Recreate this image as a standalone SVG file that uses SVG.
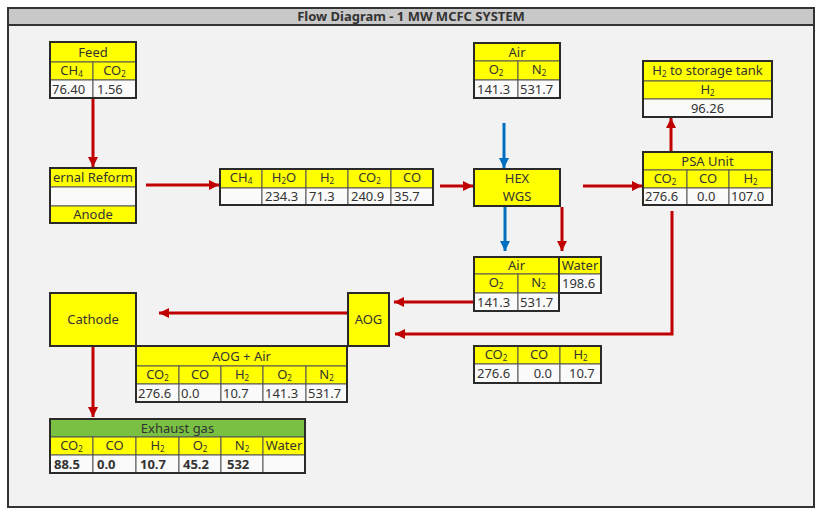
<svg xmlns="http://www.w3.org/2000/svg" width="823" height="517" viewBox="0 0 823 517">
<defs>
<style>
text{font-family:"Noto Sans","Open Sans","Liberation Sans",sans-serif;font-size:13px;fill:#333}
.c{text-anchor:middle}
.e{text-anchor:end}
.s{font-size:8px}
.bd{font-weight:bold}
.y{fill:#ffff00;stroke:#555;stroke-width:1}
.w{fill:#fafafa;stroke:#555;stroke-width:1}
.g{fill:#7ac143;stroke:#555;stroke-width:1}
.o{fill:none;stroke:#2a2a2a;stroke-width:2}
.r{fill:none;stroke:#c00000;stroke-width:3;marker-end:url(#ar)}
.bl{fill:none;stroke:#0070c0;stroke-width:3;marker-end:url(#ab)}
</style>
<marker id="ar" viewBox="0 0 10 10" refX="10" refY="5" markerWidth="11" markerHeight="10" markerUnits="userSpaceOnUse" orient="auto"><path d="M0,0 L10,5 L0,10 z" fill="#c00000"/></marker>
<marker id="ab" viewBox="0 0 10 10" refX="10" refY="5" markerWidth="11" markerHeight="10" markerUnits="userSpaceOnUse" orient="auto"><path d="M0,0 L10,5 L0,10 z" fill="#0070c0"/></marker>
</defs>
<rect width="823" height="517" fill="#ffffff"/>
<rect x="8" y="8" width="806" height="499" fill="#f2f2f2" stroke="#333" stroke-width="2"/>
<rect x="8" y="8" width="806" height="17" fill="#c8c8c8" stroke="#333" stroke-width="2"/>
<text class="c bd" x="411" y="21">Flow Diagram - 1 MW MCFC SYSTEM</text>

<g id="connectors">
<path class="r" d="M93,98 V167"/>
<path class="r" d="M146,185 H219"/>
<path class="r" d="M440,186 H473"/>
<path class="bl" d="M504,123 V168"/>
<path class="r" d="M583,186 H642"/>
<path class="r" d="M671,152 V118"/>
<path class="bl" d="M505,206 V251"/>
<path class="r" d="M562,207 V251"/>
<path class="r" d="M474,302 H394"/>
<path class="r" d="M672,211 V334 H395"/>
<path class="r" d="M348,313 H159"/>
<path class="r" d="M93,346 V417"/>
</g>

<g id="feed">
<rect class="y" x="50" y="42" width="86" height="20"/>
<rect class="y" x="50" y="62" width="43" height="18"/>
<rect class="y" x="93" y="62" width="43" height="18"/>
<rect class="w" x="50" y="80" width="43" height="18"/>
<rect class="w" x="93" y="80" width="43" height="18"/>
<rect class="o" x="50" y="42" width="86" height="56"/>
<text class="c" x="93" y="57">Feed</text>
<text class="c" x="71.5" y="75">CH<tspan class="s" dy="2">4</tspan></text>
<text class="c" x="114.5" y="75">CO<tspan class="s" dy="2">2</tspan></text>
<text x="52" y="94">76.40</text>
<text x="97" y="94">1.56</text>
</g>

<g id="reformer">
<rect class="y" x="50" y="168" width="86" height="19"/>
<rect class="w" x="50" y="187" width="86" height="19"/>
<rect class="y" x="50" y="206" width="86" height="17"/>
<rect class="o" x="50" y="168" width="86" height="55"/>
<text class="c" x="93" y="182">ernal Reform</text>
<text class="c" x="93" y="219">Anode</text>
</g>

<g id="mix">
<rect class="y" x="220" y="169" width="42" height="19"/>
<rect class="y" x="262" y="169" width="44" height="19"/>
<rect class="y" x="306" y="169" width="42" height="19"/>
<rect class="y" x="348" y="169" width="43" height="19"/>
<rect class="y" x="391" y="169" width="42" height="19"/>
<rect class="w" x="220" y="188" width="42" height="17"/>
<rect class="w" x="262" y="188" width="44" height="17"/>
<rect class="w" x="306" y="188" width="42" height="17"/>
<rect class="w" x="348" y="188" width="43" height="17"/>
<rect class="w" x="391" y="188" width="42" height="17"/>
<rect class="o" x="220" y="169" width="213" height="36"/>
<text class="c" x="241" y="182">CH<tspan class="s" dy="2">4</tspan></text>
<text class="c" x="284" y="182">H<tspan class="s" dy="2">2</tspan><tspan dy="-2">O</tspan></text>
<text class="c" x="327" y="182">H<tspan class="s" dy="2">2</tspan></text>
<text class="c" x="369.5" y="182">CO<tspan class="s" dy="2">2</tspan></text>
<text class="c" x="412" y="182">CO</text>
<text x="265" y="201">234.3</text>
<text x="309" y="201">71.3</text>
<text x="351" y="201">240.9</text>
<text x="394" y="201">35.7</text>
</g>

<g id="air">
<rect class="y" x="474" y="43" width="86" height="18"/>
<rect class="y" x="474" y="61" width="44" height="19"/>
<rect class="y" x="518" y="61" width="42" height="19"/>
<rect class="w" x="474" y="80" width="44" height="18"/>
<rect class="w" x="518" y="80" width="42" height="18"/>
<rect class="o" x="474" y="43" width="86" height="55"/>
<text class="c" x="517" y="57">Air</text>
<text class="c" x="496" y="74">O<tspan class="s" dy="2">2</tspan></text>
<text class="c" x="539" y="74">N<tspan class="s" dy="2">2</tspan></text>
<text x="477" y="94">141.3</text>
<text x="520" y="94">531.7</text>
</g>

<g id="hex">
<rect class="y" x="474" y="169" width="86" height="37"/>
<rect class="o" x="474" y="169" width="86" height="37"/>
<text class="c" x="517" y="183">HEX</text>
<text class="c" x="517" y="201">WGS</text>
</g>

<g id="h2tank">
<rect class="y" x="643" y="61" width="129" height="20"/>
<rect class="y" x="643" y="81" width="129" height="18"/>
<rect class="w" x="643" y="99" width="129" height="18"/>
<rect class="o" x="643" y="61" width="129" height="56"/>
<text class="c" x="707.5" y="75">H<tspan class="s" dy="2">2</tspan><tspan dy="-2"> to storage tank</tspan></text>
<text class="c" x="707.5" y="94">H<tspan class="s" dy="2">2</tspan></text>
<text class="c" x="707.5" y="113">96.26</text>
</g>

<g id="psa">
<rect class="y" x="643" y="152" width="129" height="18"/>
<rect class="y" x="643" y="170" width="44" height="18"/>
<rect class="y" x="687" y="170" width="42" height="18"/>
<rect class="y" x="729" y="170" width="43" height="18"/>
<rect class="w" x="643" y="188" width="44" height="17"/>
<rect class="w" x="687" y="188" width="42" height="17"/>
<rect class="w" x="729" y="188" width="43" height="17"/>
<rect class="o" x="643" y="152" width="129" height="53"/>
<text class="c" x="707.5" y="166">PSA Unit</text>
<text class="c" x="665" y="183">CO<tspan class="s" dy="2">2</tspan></text>
<text class="c" x="708" y="183">CO</text>
<text class="c" x="750.5" y="183">H<tspan class="s" dy="2">2</tspan></text>
<text x="645" y="201">276.6</text>
<text x="697" y="201">0.0</text>
<text x="731" y="201">107.0</text>
</g>

<g id="hexout">
<rect class="y" x="474" y="257" width="85" height="17"/>
<rect class="y" x="474" y="274" width="44" height="19"/>
<rect class="y" x="518" y="274" width="41" height="19"/>
<rect class="w" x="474" y="293" width="44" height="18"/>
<rect class="w" x="518" y="293" width="41" height="18"/>
<rect class="y" x="559" y="257" width="42" height="17"/>
<rect class="w" x="559" y="274" width="42" height="19"/>
<rect class="o" x="474" y="257" width="85" height="54"/>
<rect class="o" x="559" y="257" width="42" height="36"/>
<text class="c" x="516.5" y="270">Air</text>
<text class="c" x="496" y="287">O<tspan class="s" dy="2">2</tspan></text>
<text class="c" x="538.5" y="287">N<tspan class="s" dy="2">2</tspan></text>
<text x="477" y="307">141.3</text>
<text x="520" y="307">531.7</text>
<text class="c" x="580" y="270">Water</text>
<text x="562" y="288">198.6</text>
</g>

<g id="aogin">
<rect class="y" x="474" y="346" width="44" height="18"/>
<rect class="y" x="518" y="346" width="42" height="18"/>
<rect class="y" x="560" y="346" width="41" height="18"/>
<rect class="w" x="474" y="364" width="44" height="19"/>
<rect class="w" x="518" y="364" width="42" height="19"/>
<rect class="w" x="560" y="364" width="41" height="19"/>
<rect class="o" x="474" y="346" width="127" height="37"/>
<text class="c" x="496" y="359">CO<tspan class="s" dy="2">2</tspan></text>
<text class="c" x="539" y="359">CO</text>
<text class="c" x="580.5" y="359">H<tspan class="s" dy="2">2</tspan></text>
<text x="477" y="378">276.6</text>
<text class="e" x="552" y="378">0.0</text>
<text x="569" y="378">10.7</text>
</g>

<g id="aog">
<rect class="y" x="348" y="293" width="41" height="53"/>
<rect class="o" x="348" y="293" width="41" height="53"/>
<text class="c" x="368.5" y="324">AOG</text>
</g>

<g id="cathode">
<rect class="y" x="50" y="293" width="86" height="53"/>
<rect class="o" x="50" y="293" width="86" height="53"/>
<text class="c" x="93" y="324">Cathode</text>
</g>

<g id="aogair">
<rect class="y" x="136" y="346" width="211" height="20"/>
<rect class="y" x="136" y="366" width="43" height="18"/>
<rect class="y" x="179" y="366" width="42" height="18"/>
<rect class="y" x="221" y="366" width="42" height="18"/>
<rect class="y" x="263" y="366" width="43" height="18"/>
<rect class="y" x="306" y="366" width="41" height="18"/>
<rect class="w" x="136" y="384" width="43" height="18"/>
<rect class="w" x="179" y="384" width="42" height="18"/>
<rect class="w" x="221" y="384" width="42" height="18"/>
<rect class="w" x="263" y="384" width="43" height="18"/>
<rect class="w" x="306" y="384" width="41" height="18"/>
<rect class="o" x="136" y="346" width="211" height="56"/>
<text class="c" x="241.5" y="361">AOG + Air</text>
<text class="c" x="157.5" y="379">CO<tspan class="s" dy="2">2</tspan></text>
<text class="c" x="200" y="379">CO</text>
<text class="c" x="242" y="379">H<tspan class="s" dy="2">2</tspan></text>
<text class="c" x="284.5" y="379">O<tspan class="s" dy="2">2</tspan></text>
<text class="c" x="326.5" y="379">N<tspan class="s" dy="2">2</tspan></text>
<text x="138" y="398">276.6</text>
<text x="181" y="398">0.0</text>
<text x="223" y="398">10.7</text>
<text x="265" y="398">141.3</text>
<text x="308" y="398">531.7</text>
</g>

<g id="exhaust">
<rect class="g" x="50" y="419" width="255" height="18"/>
<rect class="y" x="50" y="437" width="43" height="18"/>
<rect class="y" x="93" y="437" width="43" height="18"/>
<rect class="y" x="136" y="437" width="43" height="18"/>
<rect class="y" x="179" y="437" width="42" height="18"/>
<rect class="y" x="221" y="437" width="42" height="18"/>
<rect class="y" x="263" y="437" width="42" height="18"/>
<rect class="w" x="50" y="455" width="43" height="18"/>
<rect class="w" x="93" y="455" width="43" height="18"/>
<rect class="w" x="136" y="455" width="43" height="18"/>
<rect class="w" x="179" y="455" width="42" height="18"/>
<rect class="w" x="221" y="455" width="42" height="18"/>
<rect class="w" x="263" y="455" width="42" height="18"/>
<rect class="o" x="50" y="419" width="255" height="54"/>
<text class="c" x="177.5" y="433">Exhaust gas</text>
<text class="c" x="71.5" y="450">CO<tspan class="s" dy="2">2</tspan></text>
<text class="c" x="114.5" y="450">CO</text>
<text class="c" x="157.5" y="450">H<tspan class="s" dy="2">2</tspan></text>
<text class="c" x="200" y="450">O<tspan class="s" dy="2">2</tspan></text>
<text class="c" x="242" y="450">N<tspan class="s" dy="2">2</tspan></text>
<text class="c" x="284" y="450">Water</text>
<text class="bd" x="54" y="469">88.5</text>
<text class="bd" x="97" y="469">0.0</text>
<text class="bd" x="140" y="469">10.7</text>
<text class="bd" x="183" y="469">45.2</text>
<text class="bd" x="227" y="469">532</text>
</g>
</svg>
